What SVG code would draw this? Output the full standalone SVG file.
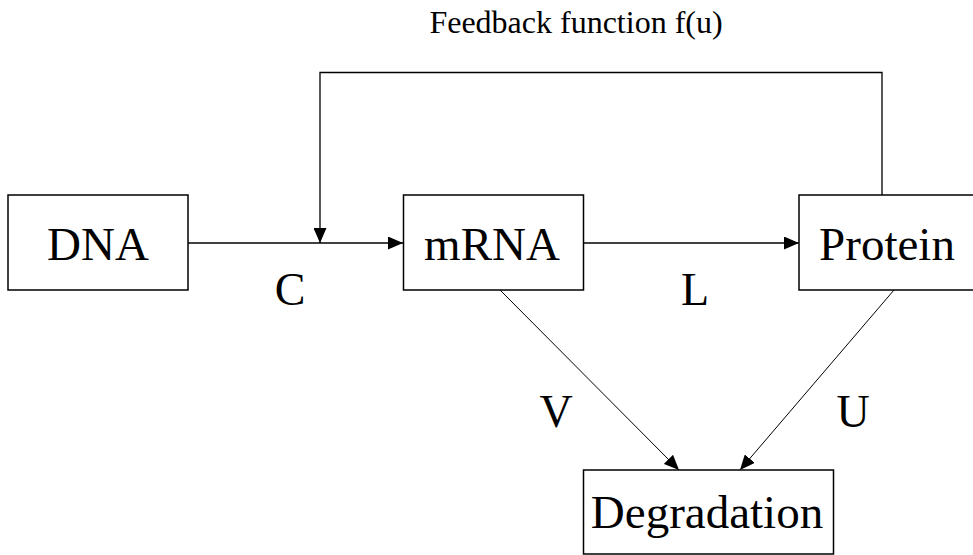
<svg xmlns="http://www.w3.org/2000/svg" width="973" height="555" viewBox="0 0 973 555">
<style>
  .box { fill: #fff; stroke: #000; stroke-width: 1.5; }
  .lbl { font-family: "Liberation Serif", "Times New Roman", serif; font-size: 47px; fill: #000; }
  .edge { font-family: "Liberation Serif", "Times New Roman", serif; font-size: 46px; fill: #000; }
  .title { font-family: "Liberation Serif", "Times New Roman", serif; font-size: 32px; fill: #000; }
  .conn { fill: none; stroke: #000; stroke-width: 1.3; }
  .diag { fill: none; stroke: #000; stroke-width: 1; }
</style>
<defs>
  <marker id="arr" viewBox="0 0 15 13" refX="15" refY="6.5" markerWidth="15" markerHeight="13" orient="auto" markerUnits="userSpaceOnUse">
    <path d="M0,0 L15,6.5 L0,13 z" fill="#000"/>
  </marker>
</defs>
<rect width="973" height="555" fill="#fff"/>

<g id="connectors">
  <line class="conn" x1="188" y1="243" x2="403" y2="243" marker-end="url(#arr)"/>
  <line class="conn" x1="584" y1="243" x2="799" y2="243" marker-end="url(#arr)"/>
  <polyline class="conn" points="882,195 882,72.5 320,72.5 320,243" marker-end="url(#arr)"/>
  <line class="diag" x1="500" y1="290" x2="679" y2="470" marker-end="url(#arr)"/>
  <line class="diag" x1="894" y1="290" x2="740" y2="470" marker-end="url(#arr)"/>
  <text class="edge" x="290" y="305" text-anchor="middle">C</text>
  <text class="edge" x="695" y="305" text-anchor="middle">L</text>
  <text class="edge" x="556" y="427" text-anchor="middle">V</text>
  <text class="edge" x="853" y="427" text-anchor="middle">U</text>
  <text class="title" x="576" y="33" text-anchor="middle">Feedback function f(u)</text>
</g>

<g id="dna">
  <rect class="box" x="8" y="195" width="180" height="95"/>
  <text class="lbl" x="98" y="260" text-anchor="middle">DNA</text>
</g>
<g id="mrna">
  <rect class="box" x="403.5" y="195" width="180" height="95"/>
  <text class="lbl" x="492" y="260" text-anchor="middle">mRNA</text>
</g>
<g id="protein">
  <rect class="box" x="799" y="195" width="180" height="95"/>
  <text class="lbl" x="887" y="260" text-anchor="middle">Protein</text>
</g>
<g id="degradation">
  <rect class="box" x="583.5" y="470" width="250" height="84"/>
  <text class="lbl" x="707" y="528" text-anchor="middle">Degradation</text>
</g>
</svg>
